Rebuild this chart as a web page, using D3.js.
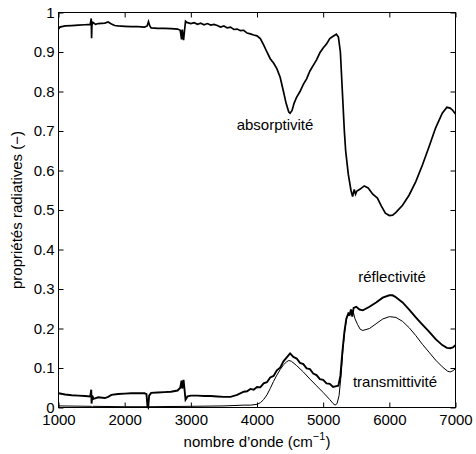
<!DOCTYPE html>
<html>
<head>
<meta charset="utf-8">
<script src="https://cdn.jsdelivr.net/npm/d3@7"></script>
<style>
  body { margin: 0; background: #fff; }
  svg { display: block; }
  text { font-family: "Liberation Sans", Arial, sans-serif; fill: #000; }
</style>
</head>
<body>
<svg width="476" height="454"></svg>
<script>
// wavenumbers and values
const absX = [1000, 1020, 1100, 1200, 1300, 1400, 1480, 1495, 1500, 1505, 1520, 1560, 1600, 1700, 1750, 1800, 1850, 1900, 2000, 2100, 2200, 2300, 2340, 2360, 2380, 2400, 2500, 2600, 2700, 2800, 2840, 2860, 2870, 2890, 2905, 2920, 2940, 3000, 3050, 3100, 3150, 3200, 3250, 3300, 3350, 3400, 3450, 3500, 3550, 3600, 3650, 3700, 3750, 3800, 3850, 3900, 3950, 4000, 4050, 4100, 4150, 4200, 4250, 4300, 4350, 4400, 4440, 4480, 4500, 4530, 4560, 4600, 4650, 4700, 4750, 4800, 4850, 4900, 4950, 5000, 5050, 5100, 5150, 5200, 5230, 5260, 5290, 5320, 5340, 5380, 5420, 5445, 5470, 5490, 5510, 5560, 5620, 5680, 5750, 5820, 5880, 5940, 6000, 6050, 6100, 6200, 6300, 6400, 6500, 6600, 6700, 6800, 6870, 6920, 6960, 7000];
const absY = [0.958, 0.963, 0.966, 0.967, 0.968, 0.969, 0.970, 0.985, 0.935, 0.968, 0.975, 0.970, 0.972, 0.973, 0.976, 0.971, 0.967, 0.966, 0.965, 0.964, 0.964, 0.963, 0.966, 0.977, 0.966, 0.961, 0.960, 0.960, 0.959, 0.958, 0.955, 0.932, 0.957, 0.930, 0.955, 0.978, 0.975, 0.972, 0.974, 0.970, 0.973, 0.969, 0.972, 0.968, 0.970, 0.967, 0.963, 0.966, 0.961, 0.963, 0.957, 0.958, 0.954, 0.955, 0.948, 0.946, 0.943, 0.941, 0.934, 0.918, 0.900, 0.883, 0.872, 0.858, 0.836, 0.800, 0.770, 0.748, 0.745, 0.752, 0.770, 0.786, 0.800, 0.818, 0.832, 0.852, 0.866, 0.880, 0.898, 0.910, 0.920, 0.934, 0.940, 0.945, 0.938, 0.900, 0.800, 0.700, 0.650, 0.590, 0.550, 0.534, 0.552, 0.540, 0.548, 0.553, 0.561, 0.556, 0.540, 0.530, 0.510, 0.492, 0.486, 0.487, 0.494, 0.512, 0.538, 0.572, 0.614, 0.660, 0.708, 0.745, 0.760, 0.758, 0.752, 0.743];

const refX = [1000, 1100, 1200, 1300, 1400, 1480, 1495, 1500, 1510, 1530, 1600, 1700, 1750, 1800, 1900, 2000, 2100, 2200, 2300, 2330, 2345, 2355, 2370, 2400, 2500, 2600, 2700, 2800, 2840, 2860, 2870, 2890, 2905, 2920, 2950, 3000, 3100, 3200, 3300, 3400, 3500, 3600, 3700, 3800, 3850, 3900, 3950, 4000, 4050, 4100, 4150, 4200, 4250, 4300, 4350, 4400, 4450, 4500, 4550, 4600, 4650, 4700, 4750, 4800, 4850, 4900, 4950, 5000, 5050, 5100, 5150, 5200, 5230, 5260, 5290, 5320, 5350, 5380, 5400, 5420, 5440, 5460, 5500, 5550, 5600, 5700, 5800, 5900, 6000, 6050, 6100, 6200, 6300, 6400, 6500, 6600, 6700, 6800, 6870, 6920, 6960, 7000];
const refY = [0.036, 0.033, 0.031, 0.030, 0.029, 0.028, 0.045, 0.010, 0.030, 0.022, 0.026, 0.024, 0.027, 0.032, 0.034, 0.035, 0.036, 0.036, 0.036, 0.034, 0.002, 0.000, 0.030, 0.037, 0.038, 0.039, 0.040, 0.043, 0.050, 0.068, 0.048, 0.070, 0.045, 0.020, 0.028, 0.030, 0.030, 0.029, 0.029, 0.028, 0.027, 0.027, 0.032, 0.040, 0.041, 0.047, 0.045, 0.052, 0.051, 0.061, 0.064, 0.076, 0.080, 0.094, 0.101, 0.117, 0.127, 0.137, 0.128, 0.124, 0.113, 0.110, 0.099, 0.097, 0.086, 0.082, 0.072, 0.070, 0.061, 0.060, 0.052, 0.054, 0.055, 0.080, 0.140, 0.190, 0.225, 0.238, 0.235, 0.248, 0.230, 0.252, 0.255, 0.248, 0.246, 0.255, 0.266, 0.278, 0.284, 0.284, 0.279, 0.266, 0.248, 0.228, 0.210, 0.192, 0.173, 0.158, 0.151, 0.150, 0.152, 0.158];

const traX = [1000, 1500, 1510, 1520, 2000, 2340, 2350, 2360, 3000, 3500, 3800, 3900, 4000, 4050, 4100, 4150, 4200, 4250, 4300, 4350, 4400, 4450, 4480, 4520, 4600, 4700, 4800, 4900, 5000, 5100, 5150, 5180, 5210, 5240, 5270, 5300, 5330, 5360, 5390, 5420, 5450, 5480, 5520, 5560, 5600, 5700, 5800, 5900, 6000, 6100, 6200, 6300, 6400, 6500, 6600, 6700, 6800, 6880, 6920, 6960, 7000];
const traY = [0.004, 0.003, 0.000, 0.003, 0.002, 0.002, 0.000, 0.002, 0.003, 0.004, 0.006, 0.006, 0.008, 0.012, 0.020, 0.032, 0.048, 0.066, 0.082, 0.096, 0.108, 0.116, 0.119, 0.117, 0.106, 0.090, 0.072, 0.055, 0.038, 0.020, 0.010, 0.006, 0.010, 0.030, 0.080, 0.150, 0.200, 0.230, 0.240, 0.235, 0.245, 0.225, 0.210, 0.198, 0.195, 0.200, 0.212, 0.224, 0.230, 0.228, 0.218, 0.202, 0.182, 0.160, 0.140, 0.120, 0.103, 0.092, 0.090, 0.093, 0.098];

const xTicks = [1000, 2000, 3000, 4000, 5000, 6000, 7000];
const yTicks = [0, 0.1, 0.2, 0.3, 0.4, 0.5, 0.6, 0.7, 0.8, 0.9, 1];

const svg = d3.select('svg');
const m = { left: 58.5, right: 455.5, top: 12.5, bottom: 407.5 };

const x = d3.scaleLinear().domain([1000, 7000]).range([m.left, m.right]);
const y = d3.scaleLinear().domain([0, 1]).range([m.bottom, m.top]);

const line = d3.line()
  .x(d => x(d[0]))
  .y(d => y(d[1]));

const zip = (a, b) => a.map((v, i) => [v, b[i]]);

// curves
svg.append('path').datum(zip(absX, absY))
  .attr('d', line).attr('fill', 'none').attr('stroke', '#000').attr('stroke-width', 1.7);
svg.append('path').datum(zip(refX, refY))
  .attr('d', line).attr('fill', 'none').attr('stroke', '#000').attr('stroke-width', 1.9);
svg.append('path').datum(zip(traX, traY))
  .attr('d', line).attr('fill', 'none').attr('stroke', '#000').attr('stroke-width', 1);

// axes (ticks inward on all four sides)
const fmtY = d => String(+d.toFixed(1));
svg.append('g').attr('transform', `translate(0,${m.bottom})`)
  .call(d3.axisBottom(x).tickValues(xTicks).tickFormat(d3.format('d')).tickSizeInner(-5).tickSizeOuter(0).tickPadding(7));
svg.append('g').attr('transform', `translate(${m.left},0)`)
  .call(d3.axisLeft(y).tickValues(yTicks).tickFormat(fmtY).tickSizeInner(-5).tickSizeOuter(0).tickPadding(4));
svg.append('g').attr('transform', `translate(0,${m.top})`)
  .call(d3.axisTop(x).tickValues(xTicks).tickSizeInner(-5).tickSizeOuter(0).tickFormat(''));
svg.append('g').attr('transform', `translate(${m.right},0)`)
  .call(d3.axisRight(y).tickValues(yTicks).tickSizeInner(-5).tickSizeOuter(0).tickFormat(''));

svg.selectAll('.domain').remove();
svg.selectAll('.tick text').attr('font-size', 15).attr('font-family', '"Liberation Sans", Arial, sans-serif');

svg.append('rect')
  .attr('x', m.left).attr('y', m.top)
  .attr('width', m.right - m.left).attr('height', m.bottom - m.top)
  .attr('fill', 'none').attr('stroke', '#000');

// labels
svg.append('text').attr('x', 275).attr('y', 130).attr('text-anchor', 'middle')
  .attr('font-size', 15).text('absorptivité');
svg.append('text').attr('x', 392).attr('y', 282).attr('text-anchor', 'middle')
  .attr('font-size', 15).text('réflectivité');
svg.append('text').attr('x', 395).attr('y', 387).attr('text-anchor', 'middle')
  .attr('font-size', 15).text('transmittivité');

const xl = svg.append('text').attr('x', (m.left + m.right) / 2).attr('y', 447)
  .attr('text-anchor', 'middle').attr('font-size', 15);
xl.append('tspan').text('nombre d’onde (cm');
xl.append('tspan').attr('dy', -7).attr('font-size', 11).text('−1');
xl.append('tspan').attr('dy', 7).text(')');

svg.append('text')
  .attr('transform', `translate(22,${(m.top + m.bottom) / 2}) rotate(-90)`)
  .attr('text-anchor', 'middle').attr('font-size', 15)
  .text('propriétés radiatives (−)');
</script>
</body>
</html>
